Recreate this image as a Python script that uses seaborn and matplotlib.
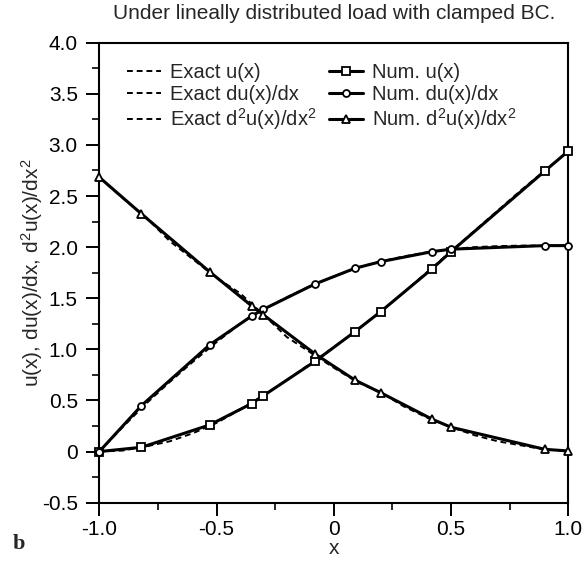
import numpy as np
import pandas as pd
import matplotlib
matplotlib.use("Agg")
import matplotlib.pyplot as plt
from matplotlib.ticker import MultipleLocator, FuncFormatter
import seaborn as sns

# nodes of the numerical solution
x_num = [-1.0, -0.82, -0.53, -0.35, -0.30, -0.08, 0.09, 0.20, 0.42, 0.50, 0.90, 1.0]
u_num = [0.0, 0.042, 0.26, 0.47, 0.547, 0.883, 1.173, 1.369, 1.79, 1.956, 2.745, 2.94]
du_num = [0.0, 0.45, 1.043, 1.327, 1.392, 1.64, 1.793, 1.858, 1.956, 1.98, 2.015, 2.015]
d2u_num = [2.684, 2.325, 1.76, 1.425, 1.337, 0.955, 0.70, 0.576, 0.316, 0.238, 0.022, 0.006]

# exact curves
x_ex = [-1.0, -0.9, -0.8, -0.7, -0.6, -0.5, -0.4, -0.3, -0.2, -0.1, 0.0,
        0.1, 0.2, 0.3, 0.4, 0.5, 0.6, 0.7, 0.8, 0.9, 1.0]
u_ex = [0.0, 0.01, 0.05, 0.10, 0.18, 0.28, 0.41, 0.55, 0.70, 0.86, 1.02,
        1.19, 1.37, 1.56, 1.76, 1.96, 2.16, 2.36, 2.56, 2.75, 2.94]
du_ex = [0.0, 0.24, 0.47, 0.68, 0.88, 1.07, 1.25, 1.39, 1.51, 1.62, 1.71,
         1.80, 1.86, 1.91, 1.95, 1.98, 2.00, 2.01, 2.015, 2.015, 2.015]
d2u_ex = [2.68, 2.48, 2.29, 2.06, 1.88, 1.70, 1.55, 1.34, 1.12, 0.97, 0.82,
          0.68, 0.58, 0.44, 0.33, 0.24, 0.16, 0.10, 0.06, 0.02, 0.005]

sns.set_style("ticks")
plt.rcParams["font.family"] = ["Liberation Sans", "DejaVu Sans"]
plt.rcParams["mathtext.fontset"] = "custom"
plt.rcParams["mathtext.rm"] = "Liberation Sans"
plt.rcParams["mathtext.it"] = "Liberation Sans"
plt.rcParams["mathtext.default"] = "regular"

df_num = pd.DataFrame({"x": x_num, "u": u_num, "du": du_num, "d2u": d2u_num})
df_ex = pd.DataFrame({"x": x_ex, "u": u_ex, "du": du_ex, "d2u": d2u_ex})

fig = plt.figure(figsize=(5.83, 5.65), dpi=100)
ax = fig.add_axes([0.1703, 0.1103, 0.8045, 0.8141])

ex_labels = ["Exact u(x)", "Exact du(x)/dx", "Exact d$^2$u(x)/dx$^2$"]
num_labels = ["Num. u(x)", "Num. du(x)/dx", "Num. d$^2$u(x)/dx$^2$"]
markers = ["s", "o", "^"]
msizes = [5.5, 5.0, 6.0]
cols = ["u", "du", "d2u"]

for c, lab in zip(cols, ex_labels):
    sns.lineplot(data=df_ex, x="x", y=c, ax=ax, color="black", lw=1.4,
                 linestyle=(0, (3, 2)), label=lab, zorder=2)

for c, lab, m, ms in zip(cols, num_labels, markers, msizes):
    sns.lineplot(data=df_num, x="x", y=c, ax=ax, color="black", lw=2.2,
                 marker=m, markersize=ms,
                 markerfacecolor="white", markeredgecolor="black",
                 markeredgewidth=1.3, label=lab, zorder=3, clip_on=False)

ax.set_xlim(-1.0, 1.0)
ax.set_ylim(-0.5, 4.0)
ax.xaxis.set_major_locator(MultipleLocator(0.5))
ax.xaxis.set_minor_locator(MultipleLocator(0.25))
ax.yaxis.set_major_locator(MultipleLocator(0.5))
ax.yaxis.set_minor_locator(MultipleLocator(0.25))
fmt = FuncFormatter(lambda v, p: "0" if abs(v) < 1e-9 else f"{v:.1f}")
ax.xaxis.set_major_formatter(fmt)
ax.yaxis.set_major_formatter(fmt)
ax.tick_params(which="major", direction="out", length=9.5, width=1.4,
               labelsize=15, colors="black", pad=6)
ax.tick_params(axis="x", which="major", pad=3)
ax.tick_params(which="minor", direction="out", length=5, width=1.4)
for s in ax.spines.values():
    s.set_visible(True)
    s.set_linewidth(1.5)
    s.set_color("black")

ax.set_xlabel("x", fontsize=15, labelpad=0)
ax.set_ylabel("u(x), du(x)/dx, d$^2$u(x)/dx$^2$", fontsize=15, labelpad=-2)
ax.set_title("Under lineally distributed load with clamped BC.", fontsize=15, pad=17)

leg = ax.legend(ncol=2, frameon=False, loc="upper left",
                bbox_to_anchor=(0.02, 0.995), fontsize=14.5,
                handlelength=1.7, handletextpad=0.45, columnspacing=0.6,
                labelspacing=0.12)

fig.text(0.022, 0.028, "b", fontsize=16, fontweight="bold",
         family="Liberation Serif")

fig.savefig("out.png", dpi=100)
